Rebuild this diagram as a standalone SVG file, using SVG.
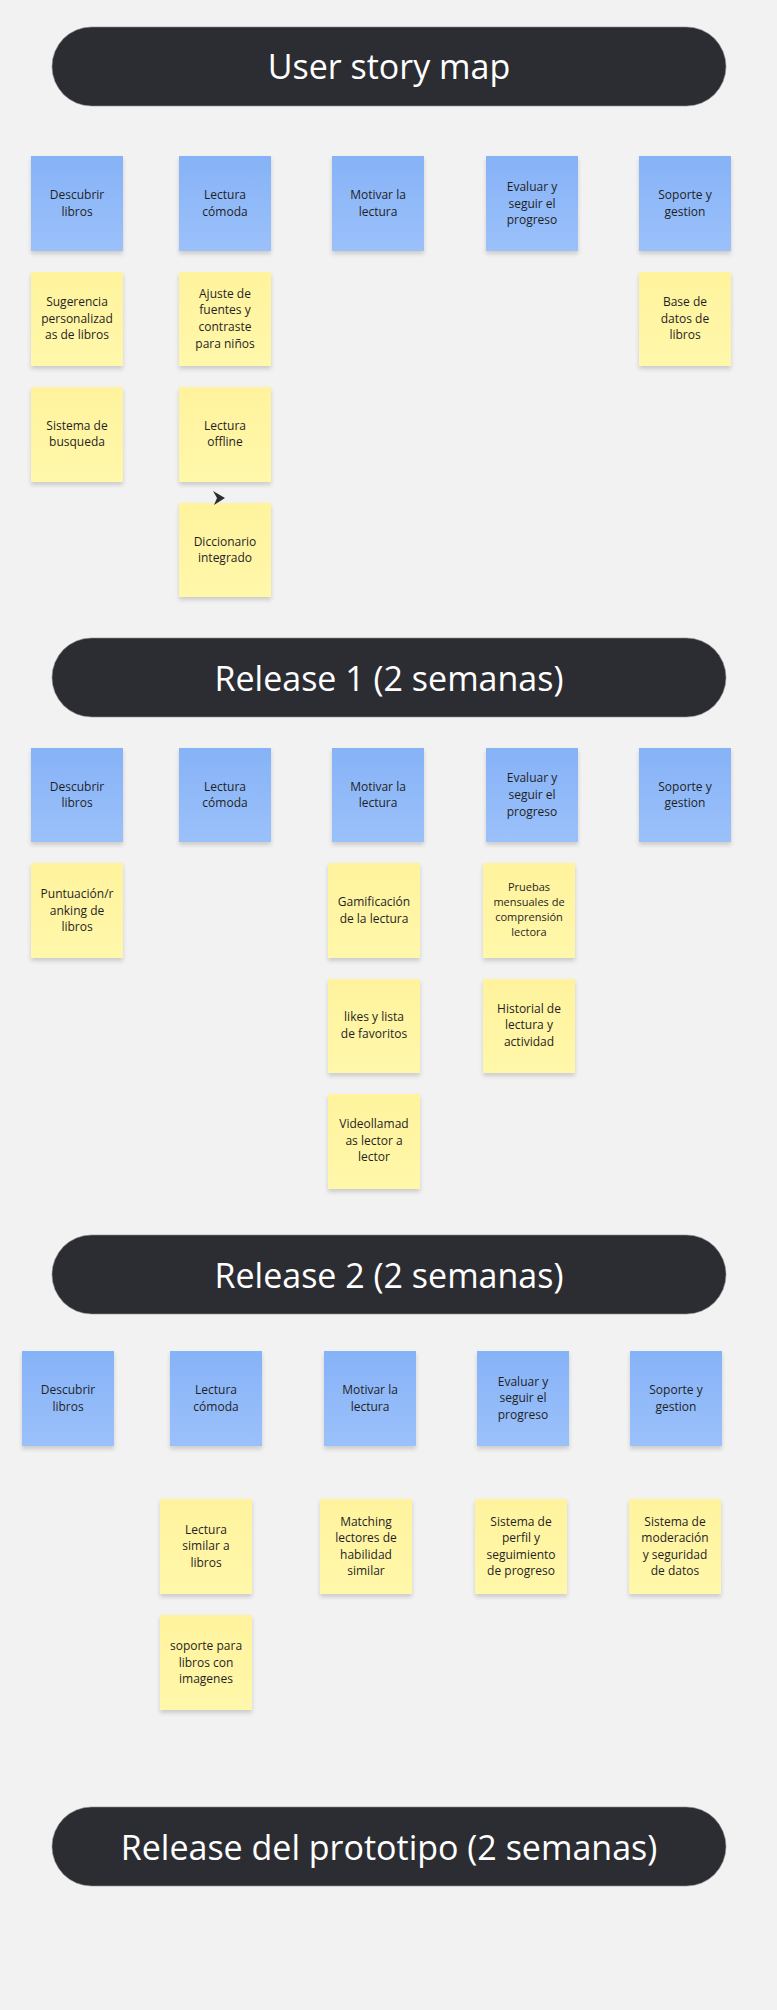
<svg xmlns="http://www.w3.org/2000/svg" width="777" height="2010" viewBox="0 0 777 2010">
<defs>
<linearGradient id="gb" x1="0" y1="0" x2="0" y2="1"><stop offset="0" stop-color="#86b2f7"/><stop offset="1" stop-color="#9bc1fa"/></linearGradient>
<linearGradient id="gy" x1="0" y1="0" x2="0" y2="1"><stop offset="0" stop-color="#fff39d"/><stop offset="1" stop-color="#fff7aa"/></linearGradient>
<filter id="sh" x="-20%" y="-20%" width="140%" height="150%"><feDropShadow dx="0" dy="3" stdDeviation="2" flood-color="#000" flood-opacity="0.16"/></filter>
</defs>
<style>
.blue{fill:url(#gb);filter:url(#sh)}
.yel{fill:url(#gy);filter:url(#sh)}
.pill{fill:#2c2d32;stroke:#8d8d8d;stroke-width:0.6}
.h{font-family:"Open Sans","Noto Sans",sans-serif;font-size:34px;fill:#ffffff;text-anchor:middle}
.t{font-family:"Open Sans","Noto Sans",sans-serif;font-size:12px;fill:#1f1f1f;text-anchor:middle}
.s{font-size:11px}
</style>
<rect x="0" y="0" width="777" height="2010" fill="#f2f2f2"/>

<g id="title-user-story-map"><rect class="pill" x="52" y="27" width="674" height="79" rx="39.5"/><text class="h" x="389" y="79">User story map</text></g>

<!-- Section 1 -->
<g id="s1-b1"><rect class="blue" x="31" y="156" width="92" height="95"/><text class="t"><tspan x="77" y="199">Descubrir</tspan><tspan x="77" y="215.7">libros</tspan></text></g>
<g id="s1-b2"><rect class="blue" x="179" y="156" width="92" height="95"/><text class="t"><tspan x="225" y="199">Lectura</tspan><tspan x="225" y="215.7">cómoda</tspan></text></g>
<g id="s1-b3"><rect class="blue" x="332" y="156" width="92" height="95"/><text class="t"><tspan x="378" y="199">Motivar la</tspan><tspan x="378" y="215.7">lectura</tspan></text></g>
<g id="s1-b4"><rect class="blue" x="486" y="156" width="92" height="95"/><text class="t"><tspan x="532" y="190.8">Evaluar y</tspan><tspan x="532" y="207.5">seguir el</tspan><tspan x="532" y="224.2">progreso</tspan></text></g>
<g id="s1-b5"><rect class="blue" x="639" y="156" width="92" height="95"/><text class="t"><tspan x="685" y="199">Soporte y</tspan><tspan x="685" y="215.7">gestion</tspan></text></g>

<g id="s1-y1"><rect class="yel" x="31" y="272" width="92" height="94"/><text class="t"><tspan x="77" y="306">Sugerencia</tspan><tspan x="77" y="322.7">personalizad</tspan><tspan x="77" y="339.4">as de libros</tspan></text></g>
<g id="s1-y2"><rect class="yel" x="179" y="272" width="92" height="94"/><text class="t"><tspan x="225" y="297.5">Ajuste de</tspan><tspan x="225" y="314.2">fuentes y</tspan><tspan x="225" y="330.9">contraste</tspan><tspan x="225" y="347.6">para niños</tspan></text></g>
<g id="s1-y3"><rect class="yel" x="639" y="272" width="92" height="94"/><text class="t"><tspan x="685" y="306">Base de</tspan><tspan x="685" y="322.7">datos de</tspan><tspan x="685" y="339.4">libros</tspan></text></g>
<g id="s1-y4"><rect class="yel" x="31" y="387" width="92" height="95"/><text class="t"><tspan x="77" y="429.5">Sistema de</tspan><tspan x="77" y="446.2">busqueda</tspan></text></g>
<g id="s1-y5"><rect class="yel" x="179" y="387" width="92" height="95"/><text class="t"><tspan x="225" y="429.5">Lectura</tspan><tspan x="225" y="446.2">offline</tspan></text></g>
<g id="s1-y6"><rect class="yel" x="179" y="503" width="92" height="94"/><text class="t"><tspan x="225" y="545.5">Diccionario</tspan><tspan x="225" y="562.2">integrado</tspan></text></g>

<g id="connectors"><polygon points="213,491 225,498 214,505 217,498" fill="#2c2d32"/></g>

<!-- Release 1 -->
<g id="title-release-1"><rect class="pill" x="52" y="638" width="674" height="79" rx="39.5"/><text class="h" x="389" y="691">Release 1 (2 semanas)</text></g>

<g id="s2-b1"><rect class="blue" x="31" y="748" width="92" height="94"/><text class="t"><tspan x="77" y="790.7">Descubrir</tspan><tspan x="77" y="807.4">libros</tspan></text></g>
<g id="s2-b2"><rect class="blue" x="179" y="748" width="92" height="94"/><text class="t"><tspan x="225" y="790.7">Lectura</tspan><tspan x="225" y="807.4">cómoda</tspan></text></g>
<g id="s2-b3"><rect class="blue" x="332" y="748" width="92" height="94"/><text class="t"><tspan x="378" y="790.7">Motivar la</tspan><tspan x="378" y="807.4">lectura</tspan></text></g>
<g id="s2-b4"><rect class="blue" x="486" y="748" width="92" height="94"/><text class="t"><tspan x="532" y="782.3">Evaluar y</tspan><tspan x="532" y="799">seguir el</tspan><tspan x="532" y="815.7">progreso</tspan></text></g>
<g id="s2-b5"><rect class="blue" x="639" y="748" width="92" height="94"/><text class="t"><tspan x="685" y="790.7">Soporte y</tspan><tspan x="685" y="807.4">gestion</tspan></text></g>

<g id="s2-y1"><rect class="yel" x="31" y="863" width="92" height="95"/><text class="t"><tspan x="77" y="897.8">Puntuación/r</tspan><tspan x="77" y="914.5">anking de</tspan><tspan x="77" y="931.2">libros</tspan></text></g>
<g id="s2-y2"><rect class="yel" x="328" y="863" width="92" height="95"/><text class="t"><tspan x="374" y="906">Gamificación</tspan><tspan x="374" y="922.7">de la lectura</tspan></text></g>
<g id="s2-y3"><rect class="yel" x="483" y="863" width="92" height="95"/><text class="t s"><tspan x="529" y="890.5">Pruebas</tspan><tspan x="529" y="905.8">mensuales de</tspan><tspan x="529" y="921.1">comprensión</tspan><tspan x="529" y="936.4">lectora</tspan></text></g>
<g id="s2-y4"><rect class="yel" x="328" y="979" width="92" height="94"/><text class="t"><tspan x="374" y="1021.3">likes y lista</tspan><tspan x="374" y="1038">de favoritos</tspan></text></g>
<g id="s2-y5"><rect class="yel" x="483" y="979" width="92" height="94"/><text class="t"><tspan x="529" y="1012.6">Historial de</tspan><tspan x="529" y="1029.3">lectura y</tspan><tspan x="529" y="1046">actividad</tspan></text></g>
<g id="s2-y6"><rect class="yel" x="328" y="1094" width="92" height="95"/><text class="t"><tspan x="374" y="1128">Videollamad</tspan><tspan x="374" y="1144.7">as lector a</tspan><tspan x="374" y="1161.4">lector</tspan></text></g>

<!-- Release 2 -->
<g id="title-release-2"><rect class="pill" x="52" y="1235" width="674" height="79" rx="39.5"/><text class="h" x="389" y="1287.5">Release 2 (2 semanas)</text></g>

<g id="s3-b1"><rect class="blue" x="22" y="1351" width="92" height="95"/><text class="t"><tspan x="68" y="1394">Descubrir</tspan><tspan x="68" y="1410.7">libros</tspan></text></g>
<g id="s3-b2"><rect class="blue" x="170" y="1351" width="92" height="95"/><text class="t"><tspan x="216" y="1394">Lectura</tspan><tspan x="216" y="1410.7">cómoda</tspan></text></g>
<g id="s3-b3"><rect class="blue" x="324" y="1351" width="92" height="95"/><text class="t"><tspan x="370" y="1394">Motivar la</tspan><tspan x="370" y="1410.7">lectura</tspan></text></g>
<g id="s3-b4"><rect class="blue" x="477" y="1351" width="92" height="95"/><text class="t"><tspan x="523" y="1385.6">Evaluar y</tspan><tspan x="523" y="1402.3">seguir el</tspan><tspan x="523" y="1419">progreso</tspan></text></g>
<g id="s3-b5"><rect class="blue" x="630" y="1351" width="92" height="95"/><text class="t"><tspan x="676" y="1394">Soporte y</tspan><tspan x="676" y="1410.7">gestion</tspan></text></g>

<g id="s3-y1"><rect class="yel" x="160" y="1499" width="92" height="95"/><text class="t"><tspan x="206" y="1533.6">Lectura</tspan><tspan x="206" y="1550.3">similar a</tspan><tspan x="206" y="1567">libros</tspan></text></g>
<g id="s3-y2"><rect class="yel" x="320" y="1499" width="92" height="95"/><text class="t"><tspan x="366" y="1525.8">Matching</tspan><tspan x="366" y="1542.3">lectores de</tspan><tspan x="366" y="1558.8">habilidad</tspan><tspan x="366" y="1575.3">similar</tspan></text></g>
<g id="s3-y3"><rect class="yel" x="475" y="1499" width="92" height="95"/><text class="t"><tspan x="521" y="1525.8">Sistema de</tspan><tspan x="521" y="1542.3">perfil y</tspan><tspan x="521" y="1558.8">seguimiento</tspan><tspan x="521" y="1575.3">de progreso</tspan></text></g>
<g id="s3-y4"><rect class="yel" x="629" y="1499" width="92" height="95"/><text class="t"><tspan x="675" y="1525.8">Sistema de</tspan><tspan x="675" y="1542.3">moderación</tspan><tspan x="675" y="1558.8">y seguridad</tspan><tspan x="675" y="1575.3">de datos</tspan></text></g>
<g id="s3-y5"><rect class="yel" x="160" y="1615" width="92" height="95"/><text class="t"><tspan x="206" y="1649.8">soporte para</tspan><tspan x="206" y="1666.5">libros con</tspan><tspan x="206" y="1683.2">imagenes</tspan></text></g>

<!-- Release prototipo -->
<g id="title-release-prototipo"><rect class="pill" x="52" y="1807" width="674" height="79" rx="39.5"/><text class="h" x="389" y="1859.5">Release del prototipo (2 semanas)</text></g>
</svg>
